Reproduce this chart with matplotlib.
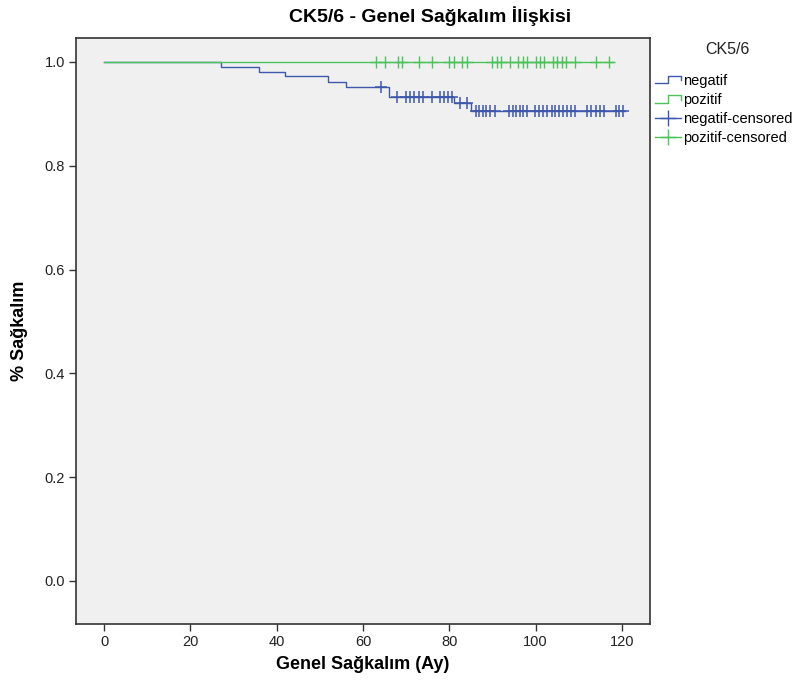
import numpy as np
import matplotlib
matplotlib.use("Agg")
import matplotlib.pyplot as plt
from matplotlib.lines import Line2D
from matplotlib.legend_handler import HandlerBase

plt.rcParams['font.family'] = ['Liberation Sans', 'DejaVu Sans']

# negatif group: step times and survival levels
neg_times = [0, 27, 36, 42, 52, 56, 66, 81, 85]
neg_surv = [1.0, 0.991, 0.981, 0.972, 0.961, 0.951, 0.932, 0.920, 0.906]
neg_end = 120.7
neg_censor = [64.2, 67.8, 70.0, 70.9, 71.8, 72.9, 73.8, 76.0, 77.8, 78.7, 79.7, 80.6,
              82.5, 84.0,
              86.2, 86.9, 87.7, 88.6, 89.4, 90.5, 93.9, 94.7, 95.4, 96.4, 97.1, 98.0,
              99.8, 100.7, 101.6, 102.7, 103.7, 104.5, 105.4, 106.3, 107.2, 108.2,
              109.1, 112.0, 112.9, 113.9, 114.8, 115.8, 118.5, 119.4, 120.2]

# pozitif group: no events
poz_times = [0]
poz_surv = [1.0]
poz_end = 118
poz_censor = [63, 65, 68, 69, 73, 76, 80, 81, 83, 84, 90, 91, 92, 94, 96, 97, 98,
              100, 101, 102, 104, 105, 106, 107, 109, 114, 117]

blue = '#3E58AC'
green = '#4CC25A'


def step_xy(times, surv, end):
    return list(times) + [end], list(surv) + [surv[-1]]


def censor_y(times, surv, ct):
    idx = np.searchsorted(times, ct, side='right') - 1
    return np.array(surv)[idx]


class StepHandler(HandlerBase):
    def create_artists(self, legend, orig_handle, xdescent, ydescent,
                       width, height, fontsize, trans):
        xs = np.array([0, 0.5, 0.5, 1.0, 1.0]) * width - xdescent
        ys = np.array([0.15, 0.15, 0.85, 0.85, 0.45]) * height - ydescent
        ln = Line2D(xs, ys, color=orig_handle.get_color(), lw=1.0, transform=trans)
        return [ln]


fig = plt.figure(figsize=(8.04, 6.84), dpi=100)
ax = fig.add_axes([0.0945, 0.0877, 0.714, 0.8567])
ax.set_facecolor('#F0F0F0')

x, y = step_xy(neg_times, neg_surv, neg_end)
l_neg, = ax.step(x, y, where='post', color=blue, lw=1.0)
x, y = step_xy(poz_times, poz_surv, poz_end)
l_poz, = ax.step(x, y, where='post', color=green, lw=1.0)

ax.plot(neg_censor, censor_y(neg_times, neg_surv, neg_censor), '+',
        color=blue, ms=8, mew=1.1)
ax.plot(poz_censor, censor_y(poz_times, poz_surv, poz_censor), '+',
        color=green, ms=8, mew=1.0)

ax.set_xlim(-6.5, 126.5)
ax.set_ylim(-0.083, 1.046)
ax.set_xticks(range(0, 121, 20))
ax.set_yticks([0.0, 0.2, 0.4, 0.6, 0.8, 1.0])
ax.set_yticklabels(['0.0', '0.2', '0.4', '0.6', '0.8', '1.0'])
ax.tick_params(direction='out', length=5, width=1.0, color='#333333',
               labelsize=10.5, labelcolor='#222222', pad=3)
for s in ax.spines.values():
    s.set_color('#333333')
    s.set_linewidth(1.2)

ax.set_xlabel('Genel Sağkalım (Ay)', fontsize=13, fontweight='bold', labelpad=5)
ax.set_ylabel('% Sağkalım', fontsize=13, fontweight='bold', labelpad=12)
fig.text(430 / 804, 1 - 16 / 684, 'CK5/6 - Genel Sağkalım İlişkisi', ha='center',
         va='center', fontsize=14, fontweight='bold')

# legend handles for the censored marks: a short line with a cross
h_cneg = Line2D([], [], color=blue, lw=1.0, marker='+', ms=11, mew=1.0)
h_cpoz = Line2D([], [], color=green, lw=1.0, marker='+', ms=11, mew=1.0)

fig.text(727 / 804, 1 - 50 / 684, 'CK5/6', ha='center', va='center',
         fontsize=11.5, color='#222222')
fig.legend([l_neg, l_poz, h_cneg, h_cpoz],
           ['negatif', 'pozitif', 'negatif-censored', 'pozitif-censored'],
           handler_map={l_neg: StepHandler(), l_poz: StepHandler()},
           loc='upper left', bbox_to_anchor=(655 / 804, 1 - 74 / 684),
           frameon=False, fontsize=10.5, handlelength=1.75, handletextpad=0.15,
           labelspacing=0.35, borderaxespad=0, borderpad=0)

fig.savefig('out.png', dpi=100)
